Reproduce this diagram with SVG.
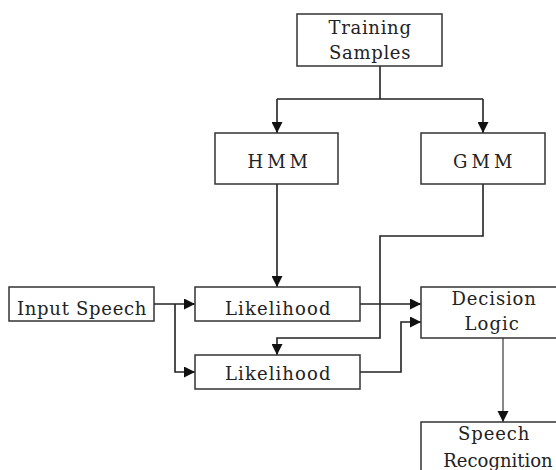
<svg xmlns="http://www.w3.org/2000/svg" width="556" height="470" viewBox="0 0 556 470">
<defs>
<style>
.box{fill:#fff;stroke:#333;stroke-width:1.5}
.t{font-family:"DejaVu Serif","Liberation Serif",serif;font-size:18px;fill:#222;text-anchor:middle;letter-spacing:0.6px}
.c{fill:none;stroke:#222;stroke-width:1.6}
.g{fill:none;stroke:#888;stroke-width:2}
</style>
<marker id="ah" viewBox="0 0 10 10" refX="10" refY="5" markerWidth="11" markerHeight="11" markerUnits="userSpaceOnUse" orient="auto">
<path d="M0,0 L10,5 L0,10 Z" fill="#111"/>
</marker>
</defs>
<rect width="556" height="470" fill="#fff"/>
<g id="connectors">
<path class="c" d="M380,66 V99 M277,99 H483"/>
<path class="c" d="M277,99 V133" marker-end="url(#ah)"/>
<path class="c" d="M483,99 V133" marker-end="url(#ah)"/>
<path class="c" d="M277,184 V287" marker-end="url(#ah)"/>
<path class="c" d="M483,184 V236 H380 V338 H277 V355" marker-end="url(#ah)"/>
<path class="c" d="M154,304 H195" marker-end="url(#ah)"/>
<path class="c" d="M175,304 V372 H195" marker-end="url(#ah)"/>
<path class="c" d="M360,304 H421" marker-end="url(#ah)"/>
<path class="c" d="M360,372 H401 V322 H421" marker-end="url(#ah)"/>
<path class="g" d="M503,338 V422"/>
<path d="M497.5,411 L508.5,411 L503,422 Z" fill="#111"/>
</g>
<g id="training">
<rect class="box" x="297" y="14" width="145" height="52"/>
<text class="t" x="370" y="34" textLength="83">Training</text>
<text class="t" x="370" y="59" textLength="82">Samples</text>
</g>
<g id="hmm">
<rect class="box" x="215" y="133" width="123" height="51"/>
<text class="t" x="278" y="168" textLength="61">HMM</text>
</g>
<g id="gmm">
<rect class="box" x="421" y="133" width="124" height="51"/>
<text class="t" x="483" y="168" textLength="60">GMM</text>
</g>
<g id="input">
<rect class="box" x="9" y="287" width="145" height="34"/>
<text class="t" x="82" y="315" textLength="130">Input Speech</text>
</g>
<g id="likelihood1">
<rect class="box" x="195" y="287" width="165" height="34"/>
<text class="t" x="278" y="315" textLength="106">Likelihood</text>
</g>
<g id="likelihood2">
<rect class="box" x="195" y="355" width="165" height="34"/>
<text class="t" x="278" y="380" textLength="106">Likelihood</text>
</g>
<g id="decision">
<rect class="box" x="421" y="287" width="150" height="51"/>
<text class="t" x="494" y="305" textLength="85">Decision</text>
<text class="t" x="492" y="330" textLength="55">Logic</text>
</g>
<g id="recognition">
<rect class="box" x="421" y="422" width="150" height="60"/>
<text class="t" x="494" y="440" textLength="72">Speech</text>
<text class="t" x="498" y="467" style="letter-spacing:0">Recognition</text>
</g>
</svg>
